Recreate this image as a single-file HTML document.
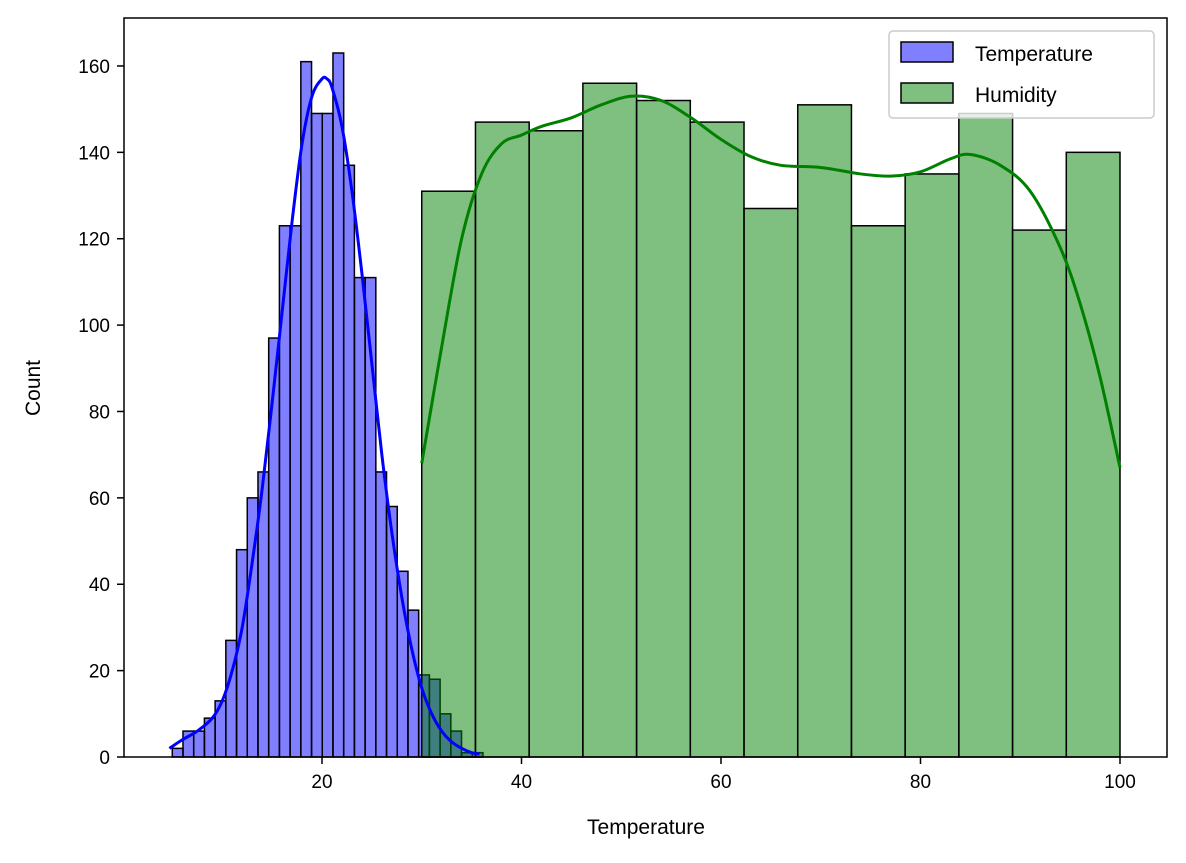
<!DOCTYPE html>
<html><head><meta charset="utf-8"><style>
body{margin:0;background:#fff;}
svg text{font-family:"Liberation Sans","DejaVu Sans",sans-serif;fill:#000;}
</style></head><body>
<svg id="chart" width="1186" height="858" xmlns="http://www.w3.org/2000/svg">
<g id="bars"></g>
<g id="lines"></g>
<rect x="124" y="18" width="1043" height="739" fill="none" stroke="#000" stroke-width="1.5"/>
<g id="ticks"></g>
<text x="646" y="834" font-size="21" text-anchor="middle">Temperature</text>
<text x="40" y="388" font-size="21" text-anchor="middle" transform="rotate(-90 40 388)">Count</text>
<g>
<rect x="889" y="31" width="265" height="87" rx="4" fill="#fff" fill-opacity="0.8" stroke="#ccc" stroke-width="1.5"/>
<rect x="901" y="42" width="52" height="20" fill="blue" fill-opacity="0.5" stroke="#000" stroke-width="1.5"/>
<text x="975" y="61" font-size="21">Temperature</text>
<rect x="901" y="83" width="52" height="20" fill="green" fill-opacity="0.5" stroke="#000" stroke-width="1.5"/>
<text x="975" y="102" font-size="21">Humidity</text>
</g>
</svg>
<script>
const tempStart = 4.99;
const tempWidth = 1.074;
const tempCounts = [2,6,6,9,13,27,48,60,66,97,123,123,161,149,149,163,137,111,111,66,58,43,34,19,18,10,6,1,1];
const humStart = 30;
const humWidth = 70/13;
const humCounts = [131,147,145,156,152,147,127,151,123,135,149,122,140];
const tempKdeX = [4.7,6,7.5,9,10,11,12,13,14,15,16,17,18,19,20,20.5,21,22,23,24,25,26,27,28,29,30,31,32,33,34,35,35.8];
const tempKdeY = [2,4,6,9,13,20,30,45,62,82,103,124,142,153,157,157,155,146,131,112,91,70,52,37,25,16,10,6,3.5,2,1,0.7];
const humKdeX = [30,32,34,36,38,40,42,45,48,51,54,57,60,63,66,70,74,77,80,83,85,88,91,94,96,98,100];
const humKdeY = [68,95,120,135,142,144,146,148,151,153,152,148,143,139,137,136.5,135,134.5,135.5,138.5,139.5,137,131,118,105,88,67];
const xTicks = [20,40,60,80,100];
const yTicks = [0,20,40,60,80,100,120,140,160];

const NS = "http://www.w3.org/2000/svg";
const X = v => 122.5 + v * 9.975;
const Y = v => 757 - v * 4.319;
function mk(tag, attrs, parent){const e=document.createElementNS(NS,tag);for(const k in attrs)e.setAttribute(k,attrs[k]);parent.appendChild(e);return e;}
const bars = document.getElementById('bars');
tempCounts.forEach((c,i)=>{
  const x0=X(tempStart+i*tempWidth), x1=X(tempStart+(i+1)*tempWidth);
  const r=mk('rect',{x:x0,y:Y(c),width:x1-x0,height:Y(0)-Y(c),fill:'blue','fill-opacity':0.5,stroke:'#000','stroke-width':1.5},bars);
  
  
});
humCounts.forEach((c,i)=>{
  const x0=X(humStart+i*humWidth), x1=X(humStart+(i+1)*humWidth);
  const r=mk('rect',{x:x0,y:Y(c),width:x1-x0,height:Y(0)-Y(c),fill:'green','fill-opacity':0.5,stroke:'#000','stroke-width':1.5},bars);
  
  
});
const lines = document.getElementById('lines');
function curve(xs,ys,color,name){
  const pts=xs.map((x,i)=>[X(x),Y(ys[i])]);
  let d='M'+pts[0][0]+','+pts[0][1];
  for(let i=0;i<pts.length-1;i++){
    const p0=pts[Math.max(i-1,0)],p1=pts[i],p2=pts[i+1],p3=pts[Math.min(i+2,pts.length-1)];
    d+=' C'+(p1[0]+(p2[0]-p0[0])/6)+','+(p1[1]+(p2[1]-p0[1])/6)+' '+(p2[0]-(p3[0]-p1[0])/6)+','+(p2[1]-(p3[1]-p1[1])/6)+' '+p2[0]+','+p2[1];
  }
  const p=mk('path',{d:d,fill:'none',stroke:color,'stroke-width':3},lines);
  
  
}
curve(tempKdeX,tempKdeY,'blue','temperature-kde');
curve(humKdeX,humKdeY,'green','humidity-kde');
const ticks=document.getElementById('ticks');
xTicks.forEach(v=>{
  const l=mk('line',{x1:X(v),x2:X(v),y1:757,y2:764,stroke:'#000','stroke-width':1.5},ticks);
  
  
  const t=mk('text',{x:X(v),y:788,'font-size':19,'text-anchor':'middle'},ticks);
  t.textContent=v;
  
  
});
yTicks.forEach(v=>{
  const l=mk('line',{x1:117,x2:124,y1:Y(v),y2:Y(v),stroke:'#000','stroke-width':1.5},ticks);
  
  
  const t=mk('text',{x:110,y:Y(v)+7,'font-size':19,'text-anchor':'end'},ticks);
  t.textContent=v;
  
  
});
</script>
</body></html>
